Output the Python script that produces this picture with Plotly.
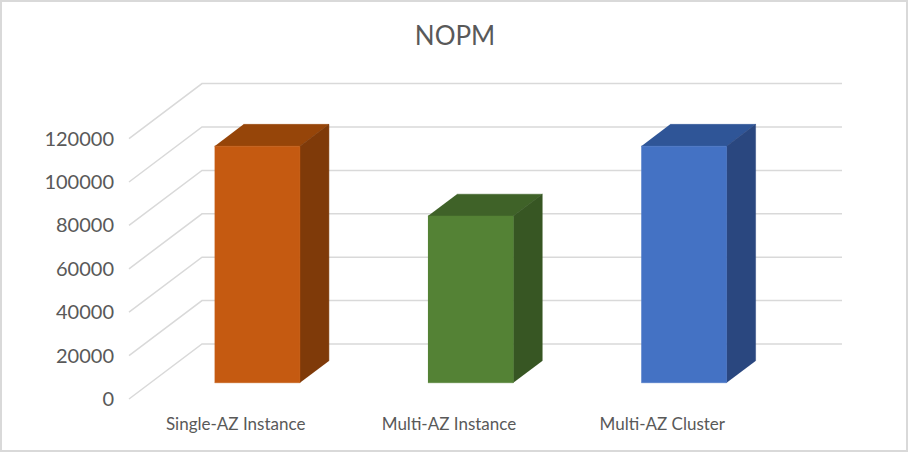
import plotly.graph_objects as go

categories = ['Single-AZ Instance', 'Multi-AZ Instance', 'Multi-AZ Cluster']
nopm = [109000, 76800, 109000]
y_ticks = [0, 20000, 40000, 60000, 80000, 100000, 120000]

front_colors = ['#C55A11', '#548235', '#4472C4']
top_colors = ['#964509', '#3F6228', '#2F5597']
side_colors = ['#7F3A09', '#375623', '#2A477F']

grid_color = '#D9D9D9'
text_color = '#595959'
font_name = 'Lato'

# page pixels, the fake 3d is just an oblique projection on a 2d plot
W, H = 908, 452
left, right, top, bottom = 115, 850, 70, 412
px_per_cat = 213.33
px_per_val = 43.4 / 20000
zero_x, zero_y = 235.67, 399

# what going from the front of the floor to the back wall adds
depth_x = 73 / px_per_cat
depth_y = 55 / px_per_val

bar_half = 0.2
bar_front = 0.296
bar_back = 0.693


def project(cat, val, depth):
    return cat + depth * depth_x, val + depth * depth_y


def face(points, color):
    xs = [p[0] for p in points]
    ys = [p[1] for p in points]
    return go.Scatter(x=xs, y=ys, mode='lines', fill='toself', fillcolor=color,
                      line=dict(color=color, width=0.5), hoverinfo='skip')


fig = go.Figure()

# gridlines: diagonal on the side wall then along the back wall
grid_x, grid_y = [], []
for t in y_ticks:
    a = project(-0.5, t, 0)
    b = project(-0.5, t, 1)
    c = project(2.5, t, 1)
    grid_x += [a[0], b[0], c[0], None]
    grid_y += [a[1], b[1], c[1], None]
fig.add_trace(go.Scatter(x=grid_x, y=grid_y, mode='lines',
                         line=dict(color=grid_color, width=1.5), hoverinfo='skip'))

for i, val in enumerate(nopm):
    l, r = i - bar_half, i + bar_half
    fig.add_trace(face([project(l, val, bar_front), project(r, val, bar_front),
                        project(r, val, bar_back), project(l, val, bar_back)], top_colors[i]))
    fig.add_trace(face([project(r, 0, bar_front), project(r, val, bar_front),
                        project(r, val, bar_back), project(r, 0, bar_back)], side_colors[i]))
    fig.add_trace(face([project(l, 0, bar_front), project(r, 0, bar_front),
                        project(r, val, bar_front), project(l, val, bar_front)], front_colors[i]))

fig.update_layout(
    width=W, height=H,
    showlegend=False,
    paper_bgcolor='white',
    plot_bgcolor='white',
    margin=dict(l=0, r=0, t=0, b=0),
    font=dict(family=font_name, color=text_color),
    title=dict(text='NOPM', x=455 / W, xanchor='center', y=1 - 36 / H, yanchor='middle',
               font=dict(size=26, color=text_color, family=font_name)),
    xaxis=dict(domain=[left / W, right / W],
               range=[(left - zero_x) / px_per_cat, (right - zero_x) / px_per_cat],
               tickvals=[0, 1, 2], ticktext=categories, tickfont=dict(size=17, color=text_color),
               showgrid=False, zeroline=False, showline=False, ticks=''),
    yaxis=dict(domain=[(H - bottom) / H, (H - top) / H],
               range=[(zero_y - bottom) / px_per_val, (zero_y - top) / px_per_val],
               tickvals=y_ticks, tickformat='d', tickfont=dict(size=20, color=text_color),
               showgrid=False, zeroline=False, showline=False, ticks=''),
    shapes=[dict(type='rect', xref='paper', yref='paper', x0=0, x1=1, y0=0, y1=1,
                 line=dict(color=grid_color, width=4), layer='above')],
)

# the default page has a body margin that pushes everything 8px
fig.write_html("out.html", config={'displayModeBar': False},
               post_script="document.body.style.margin='0';document.body.style.overflow='hidden';")
